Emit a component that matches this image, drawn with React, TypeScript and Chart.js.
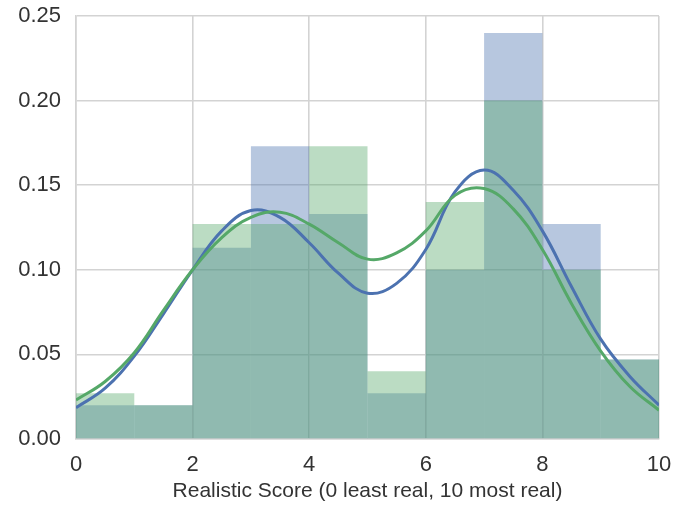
import React, { useEffect, useRef } from "react";
import { Chart, registerables } from "chart.js";

Chart.register(...registerables);

// Histogram bins (width 1) – bin centres
const binCenters = [0.5, 1.5, 2.5, 3.5, 4.5, 5.5, 6.5, 7.5, 8.5, 9.5];
const blueHist = [0.020, 0.020, 0.113, 0.173, 0.133, 0.027, 0.100, 0.240, 0.127, 0.047];
const greenHist = [0.027, 0.020, 0.127, 0.127, 0.173, 0.040, 0.140, 0.200, 0.100, 0.047];

// KDE samples
const kdeX = [0, 0.5, 1, 1.5, 2, 2.5, 3, 3.5, 4, 4.5, 5, 5.5, 6, 6.5, 7, 7.5, 8, 8.5, 9, 9.5, 10];
const blueKde = [0.0185, 0.030, 0.049, 0.074, 0.100, 0.123, 0.135, 0.131, 0.116, 0.098, 0.0862, 0.092, 0.112, 0.146, 0.159, 0.147, 0.123, 0.090, 0.059, 0.037, 0.020];
const greenKde = [0.023, 0.034, 0.051, 0.076, 0.100, 0.119, 0.131, 0.134, 0.127, 0.116, 0.1063, 0.110, 0.123, 0.144, 0.148, 0.136, 0.112, 0.080, 0.052, 0.031, 0.017];

const xTicks = [0, 2, 4, 6, 8, 10];
const yTicks = [0, 0.05, 0.1, 0.15, 0.2, 0.25];
const xTitle = "Realistic Score (0 least real, 10 most real)";

const W = 689;
const H = 506;
const PLOT_LEFT = 76;
const PLOT_RIGHT = 659;
const PLOT_TOP = 16;
const PLOT_BOTTOM = 439;

export default function App() {
  const ref = useRef<HTMLCanvasElement | null>(null);

  useEffect(() => {
    document.body.style.margin = "0";
    const canvas = ref.current;
    if (!canvas) return;
    const gridColor = "#d3d3d3";
    const textColor = "#333333";
    const font = "'Liberation Sans', Arial, sans-serif";

    const chart = new Chart(canvas, {
      type: "bar",
      data: {
        datasets: [
          {
            type: "line",
            label: "green kde",
            data: kdeX.map((x, i) => ({ x, y: greenKde[i] })),
            borderColor: "#55A868",
            borderWidth: 3,
            pointRadius: 0,
            tension: 0.4,
            fill: false,
            order: 0,
          },
          {
            type: "line",
            label: "blue kde",
            data: kdeX.map((x, i) => ({ x, y: blueKde[i] })),
            borderColor: "#4C72B0",
            borderWidth: 3,
            pointRadius: 0,
            tension: 0.4,
            fill: false,
            order: 1,
          },
          {
            type: "bar",
            label: "green hist",
            data: binCenters.map((x, i) => ({ x, y: greenHist[i] })),
            backgroundColor: "rgba(85,168,104,0.4)",
            borderWidth: 0,
            grouped: false,
            barPercentage: 1,
            categoryPercentage: 1,
            inflateAmount: 0,
            order: 2,
          },
          {
            type: "bar",
            label: "blue hist",
            data: binCenters.map((x, i) => ({ x, y: blueHist[i] })),
            backgroundColor: "rgba(76,114,176,0.4)",
            borderWidth: 0,
            grouped: false,
            barPercentage: 1,
            categoryPercentage: 1,
            inflateAmount: 0,
            order: 3,
          },
        ] as any,
      },
      options: {
        responsive: false,
        animation: false,
        events: [],
        layout: {
          padding: { left: 0, right: W - PLOT_RIGHT, top: PLOT_TOP, bottom: 0 },
        },
        plugins: {
          legend: { display: false },
          tooltip: { enabled: false },
        },
        scales: {
          x: {
            type: "linear",
            min: 0,
            max: 10,
            offset: false,
            afterBuildTicks: (scale: any) => {
              scale.ticks = xTicks.map((v) => ({ value: v }));
            },
            afterFit: (scale: any) => {
              scale.height = H - PLOT_BOTTOM;
            },
            grid: { color: gridColor, lineWidth: 1.6, drawTicks: false, offset: false },
            border: { color: gridColor, width: 1.6 },
            ticks: {
              color: textColor,
              padding: 13,
              font: { family: font, size: 22 },
              maxRotation: 0,
              callback: (v: any) => String(v),
            },
            title: {
              display: true,
              text: xTitle,
              color: textColor,
              font: { family: font, size: 21 },
              padding: { top: 0, bottom: 2 },
            },
          },
          y: {
            type: "linear",
            min: 0,
            max: 0.25,
            afterBuildTicks: (scale: any) => {
              scale.ticks = yTicks.map((v) => ({ value: v }));
            },
            afterFit: (scale: any) => {
              scale.width = PLOT_LEFT;
              scale.paddingTop = 0;
              scale.paddingBottom = 0;
            },
            grid: { color: gridColor, lineWidth: 1.6, drawTicks: false },
            border: { color: gridColor, width: 1.6 },
            ticks: {
              color: textColor,
              padding: 15,
              font: { family: font, size: 22 },
              callback: (v: any) => Number(v).toFixed(2),
            },
          },
        },
      } as any,
    });
    return () => chart.destroy();
  }, []);

  return (
    <div style={{ position: "absolute", left: 0, top: 0, width: W, height: H, background: "#ffffff" }}>
      <canvas ref={ref} width={W} height={H} style={{ width: W, height: H, display: "block" }} />
    </div>
  );
}
